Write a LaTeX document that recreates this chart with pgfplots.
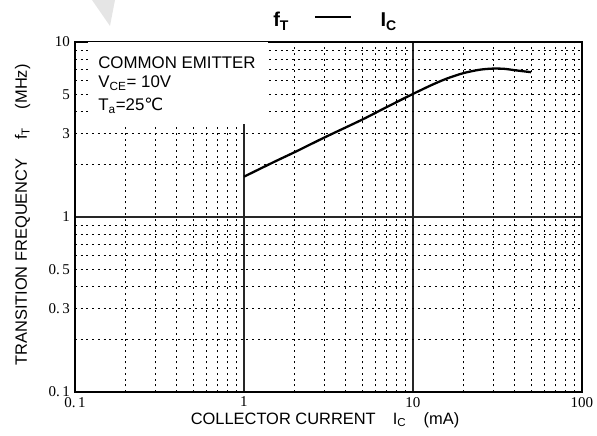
\documentclass[border=0pt]{standalone}
\usepackage{fontspec}
\setmainfont{Liberation Sans}
\newfontfamily\tickfont{Liberation Serif}
\newfontfamily\dejavu{DejaVu Sans}
\usepackage{pgfplots}
\pgfplotsset{compat=1.18}
\begin{document}
\begin{tikzpicture}[x=0.7pt,y=0.7pt]
\path[use as bounding box] (-75,-44) rectangle (522,392);
\fill[black!10] (92-75,392) -- (115-75,392) -- (110-75,392-26) -- cycle;
\begin{axis}[
  at={(0,0)}, anchor=south west,
  scale only axis, width=354.9pt, height=245pt,
  xmode=log, ymode=log,
  xmin=0.1, xmax=100, ymin=0.1, ymax=10,
  xtick={0.1,1,10,100}, xticklabels={0.\,1,1,10,100},
  ytick={0.1,1,10}, yticklabels={0.\,1,1,10},
  extra y ticks={0.3,0.5,3,5}, extra y tick labels={0.\,3,0.\,5,3,5},
  extra y tick style={grid=none},
  minor xtick={0.2,0.3,0.4,0.5,0.6,0.7,0.8,0.9,2,3,4,5,6,7,8,9,20,30,40,50,60,70,80,90},
  minor ytick={0.2,0.3,0.4,0.5,0.6,0.7,0.8,0.9,2,3,4,5,6,7,8,9},
  grid=both,
  major grid style={black!85, line width=0.75pt, solid},
  minor grid style={black, line width=0.6pt, dash pattern=on 1.4pt off 2.6pt},
  major tick length=0pt, minor tick length=0pt,
  tick label style={font=\tickfont\fontsize{10.5}{12}\selectfont},
  axis line style={line width=0.9pt},
]
\fill[white] (axis cs:0.119,10) rectangle (axis cs:1.39,3.4);
\addplot[black, line width=1.6pt, smooth] coordinates {
(1,1.70) (1.5,2.06) (2,2.35) (3,2.85) (5,3.6) (7,4.25) (10,5.05) (13,5.7) (16,6.2) (20,6.65) (25,6.95) (30,7.05) (35,7.02) (40,6.9) (50,6.72)
};
\end{axis}
\node[anchor=base west, font=\fontsize{14}{16}\selectfont\bfseries, inner sep=0] at (198,365)
  {f\textsubscript{T}\hspace{18pt}\rule[6.3pt]{25pt}{1.1pt}\hspace{21pt}I\textsubscript{C}};
\node[anchor=base west, font=\fontsize{11.8}{13}\selectfont, inner sep=0] at (23,323) {COMMON EMITTER};
\node[anchor=base west, font=\fontsize{11.8}{13}\selectfont, inner sep=0] at (23,304) {V\textsubscript{CE}= 10V};
\node[anchor=base west, font=\fontsize{11.8}{13}\selectfont, inner sep=0] at (23,281) {T\textsubscript{a}=25{\dejavu ℃}};
\node[anchor=base, font=\fontsize{11.5}{13}\selectfont, inner sep=0] at (250,-32) {COLLECTOR CURRENT\hspace{12pt}I\textsubscript{C}\hspace{12pt}(mA)};
\node[anchor=base, rotate=90, font=\fontsize{11.5}{13}\selectfont, inner sep=0] at (-48,177) {TRANSITION FREQUENCY\hspace{13pt}f\textsubscript{T}\hspace{13pt}(MHz)};
\end{tikzpicture}
\end{document}
